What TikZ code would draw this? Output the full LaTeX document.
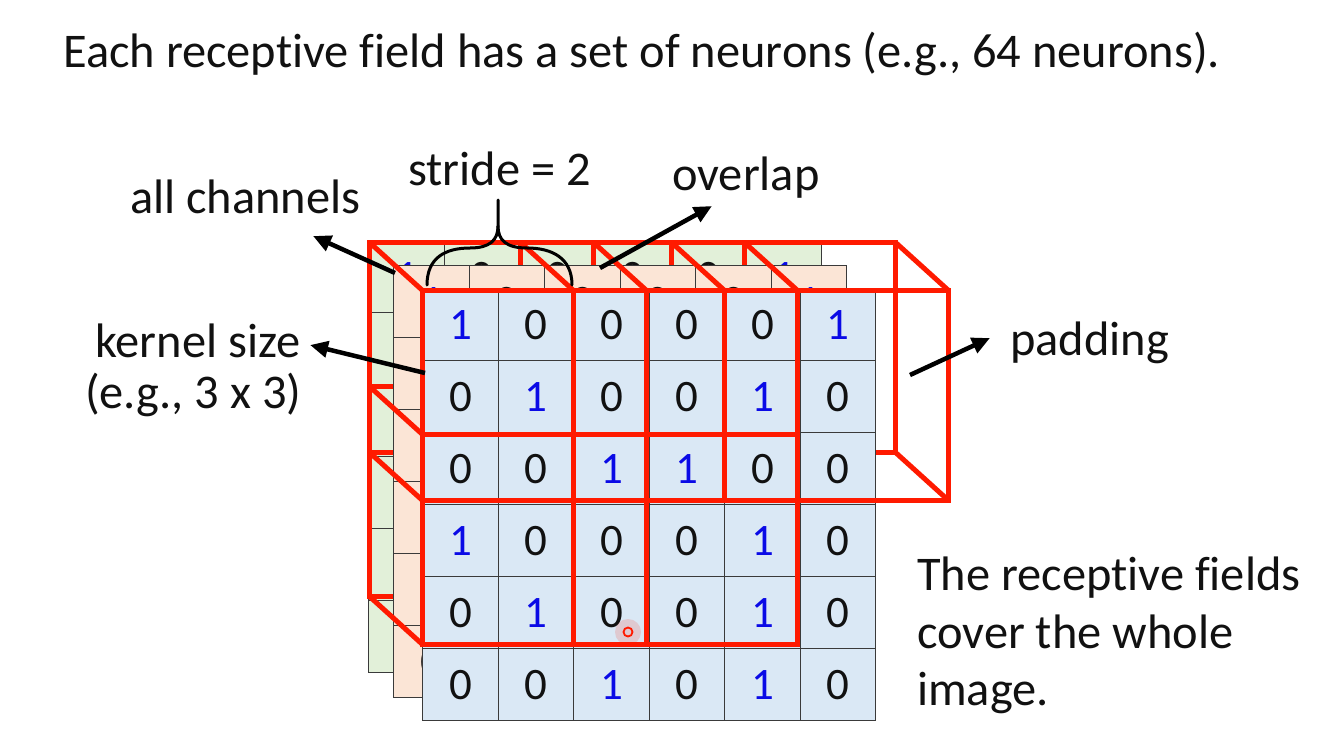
\documentclass[tikz,border=0pt]{standalone}
\usepackage{fontspec}
\setmainfont{Carlito}[Ligatures=NoCommon]
\usetikzlibrary{arrows.meta}
\definecolor{cellblue}{HTML}{DAE8F5}
\definecolor{cellpeach}{HTML}{FBE5D6}
\definecolor{cellgreen}{HTML}{E2F0D9}
\definecolor{rfred}{HTML}{FF1A00}
\definecolor{gridline}{HTML}{3A3A3A}
\definecolor{oneblue}{HTML}{0A0AE6}
\definecolor{txt}{HTML}{111111}
\newcommand\gridlayer[4]{%
  \foreach \r/\row in {0/{1,0,0,0,0,1},1/{0,1,0,0,1,0},2/{0,0,1,1,0,0},3/{1,0,0,0,1,0},4/{0,1,0,0,1,0},5/{0,0,1,0,1,0}}{
    \foreach \v [count=\c from 0] in \row {
      \node[cell, fill=#4] (#1-\r-\c) at ({#2+75.5*\c},{#3+72*\r}) {\ifnum\v=1 \color{oneblue}\fi\v};
    }
  }%
}
\begin{document}
\begin{tikzpicture}[x=1pt,y=-1pt,
  cell/.style={draw=gridline, line width=1.4pt, minimum width=75.5pt, minimum height=72pt,
    inner sep=0pt, anchor=north west, text=txt, font=\fontsize{45}{45}\selectfont},
  rf/.style={draw=rfred, line width=5pt, line join=miter},
  lbl/.style={inner sep=0pt, anchor=base west, text=txt, font=\fontsize{48.4}{58}\selectfont},
  callout/.style={draw=black, line width=4.5pt, -{Triangle[length=18pt,width=16pt]}},
  bracestyle/.style={draw=black, line width=3pt, line cap=round}
]
\useasboundingbox[fill=white] (0,0) rectangle (1322,741);

% back (green) channel
\gridlayer{g}{368}{240}{cellgreen}
% back faces of receptive fields
\foreach \c/\r in {0/0,2/0,4/0,0/2,2/2}{
  \draw[rf] ({422+75.5*\c-53},{290+72*\r-48}) rectangle +(224,210);
}
% middle (peach) channel
\gridlayer{p}{393}{265}{cellpeach}
% depth edges of receptive fields
\foreach \c/\r in {0/0,2/0,4/0,0/2,2/2}{
  \foreach \dx/\dy in {0/0,224/0,0/210,224/210}{
    \draw[rf] ({422+75.5*\c+\dx},{290+72*\r+\dy}) -- +(-53,-48);
  }
}
% front (blue) channel
\gridlayer{f}{422}{288}{cellblue}
% front faces of receptive fields
\foreach \c/\r in {0/0,2/0,4/0,0/2,2/2}{
  \draw[rf] ({422+75.5*\c},{290+72*\r}) rectangle +(224,210);
}

% texts
\node[lbl] (title) at (63,68) {Each receptive field has a set of neurons (e.g., 64 neurons).};
\node[lbl] (stride) at (408,185) {stride = 2};
\node[lbl] (chan) at (130,213) {all channels};
\node[lbl] (over) at (672,190) {overlap};
\node[lbl] (kern) at (95,357) {kernel size};
\node[lbl] (kern2) at (85,408) {(e.g., 3 x 3)};
\node[lbl] (pad) at (1010,355) {padding};
\node[lbl] (cov1) at (917,590) {The receptive fields};
\node[lbl] (cov2) at (917,648) {cover the whole};
\node[lbl] (cov3) at (917,705) {image.};

% arrows
\coordinate (chT) at (395,273); \coordinate (chH) at (313,236);
\coordinate (kT) at (425,373); \coordinate (kH) at (310,345);
\coordinate (oT) at (600,268); \coordinate (oH) at (712,206);
\coordinate (pT) at (910,375); \coordinate (pH) at (990,338);
\draw[callout] (chT) -- (chH);
\draw[callout] (kT) -- (kH);
\draw[callout] (oT) -- (oH);
\draw[callout] (pT) -- (pH);

% brace
\coordinate (bL) at (427,285); \coordinate (bR) at (572,285); \coordinate (bTip) at (498,200);
\draw[bracestyle] (bL) .. controls (427,258) and (445,248) .. (470,248)
  .. controls (490,248) and (498,240) .. (498,226) -- (bTip);
\draw[bracestyle] (bR) .. controls (572,258) and (552,248) .. (527,248)
  .. controls (506,248) and (498,240) .. (498,226);

% pointer
\fill[rfred, opacity=.15] (628,632) circle (13pt);
\draw[rfred, line width=1.8pt] (628,632) circle (4.5pt);
\end{tikzpicture}
\end{document}
